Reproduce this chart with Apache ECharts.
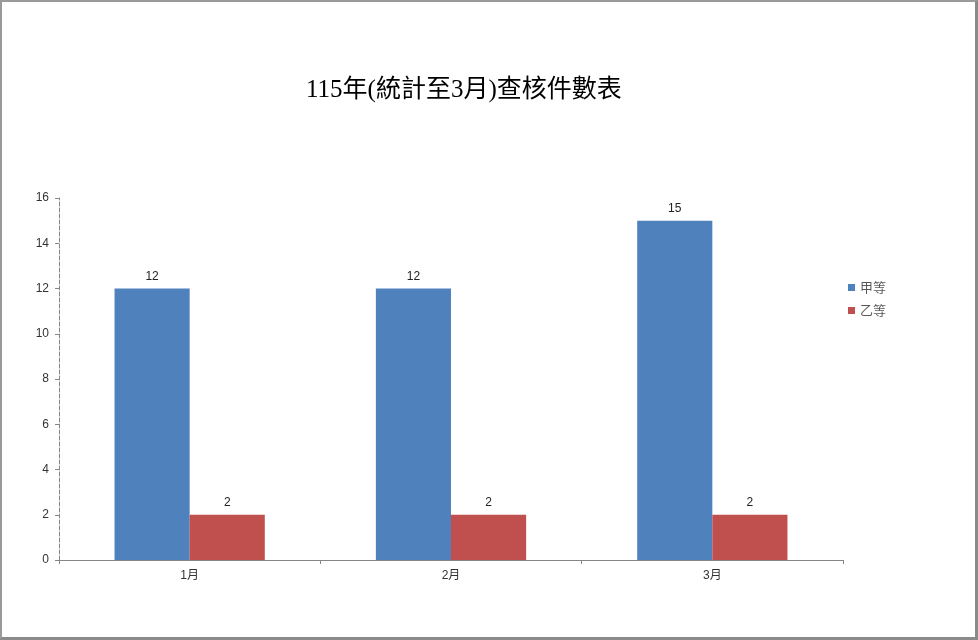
<!DOCTYPE html>
<html>
<head>
<meta charset="utf-8">
<script src="https://cdn.jsdelivr.net/npm/echarts@6/dist/echarts.min.js"></script>
<style>
  html, body { margin: 0; padding: 0; background: #fff; }
  #wrap { position: relative; width: 978px; height: 640px; }
  #chart { position: absolute; left: 0; top: 0; width: 978px; height: 640px; }
  #frame { position: absolute; left: 0; top: 0; width: 978px; height: 640px; box-sizing: border-box;
           border-top: 2px solid #9a9a9a; border-left: 2px solid #9a9a9a;
           border-right: 3px solid #8a8a8a; border-bottom: 3px solid #8a8a8a; pointer-events: none; }
</style>
</head>
<body>
<div id="wrap">
  <div id="chart"></div>
  <div id="frame"></div>
</div>
<script>
// 資料
var months = ['1月', '2月', '3月'];
var gradeA = [12, 12, 15];   // 甲等
var gradeB = [2, 2, 2];      // 乙等
var seriesNames = ['甲等', '乙等'];

var myChart = echarts.init(document.getElementById('chart'));

var labelStyle = {
    show: true,
    position: 'top',
    distance: 6,
    color: '#222',
    fontSize: 12,
    fontFamily: 'Liberation Sans, Noto Sans CJK TC'
};

var option = {
    backgroundColor: '#fff',
    animation: false,
    title: {
        text: '115年(統計至3月)查核件數表',
        left: 301,
        top: 73,
        textStyle: {
            color: '#000',
            fontSize: 25,
            fontWeight: 'normal',
            fontFamily: 'Liberation Serif, Noto Sans CJK TC'
        }
    },
    legend: {
        orient: 'vertical',
        left: 843,
        top: 276,
        itemWidth: 7,
        itemHeight: 7,
        itemGap: 10,
        icon: 'rect',
        data: seriesNames,
        textStyle: {
            color: '#595959',
            fontSize: 13,
            fontFamily: 'Noto Sans CJK TC'
        }
    },
    grid: {
        left: 59,
        right: 135,
        top: 198,
        bottom: 80
    },
    xAxis: {
        type: 'category',
        data: months,
        axisLine: { lineStyle: { color: '#868686', width: 1 } },
        axisTick: { show: true, length: 4, lineStyle: { color: '#868686' } },
        axisLabel: {
            color: '#333',
            fontSize: 12,
            margin: 10,
            fontFamily: 'Liberation Sans, Noto Sans CJK TC'
        }
    },
    yAxis: {
        type: 'value',
        min: 0,
        max: 16,
        interval: 2,
        axisLine: { show: true, lineStyle: { color: '#868686', type: 'dashed', width: 1 } },
        axisTick: { show: true, length: 4, lineStyle: { color: '#868686' } },
        splitLine: { show: false },
        axisLabel: {
            color: '#333',
            fontSize: 12,
            margin: 10,
            fontFamily: 'Liberation Sans'
        }
    },
    series: [
        {
            name: seriesNames[0],
            type: 'bar',
            data: gradeA,
            barGap: '0%',
            barCategoryGap: '42.5%',
            itemStyle: { color: '#4F81BD' },
            label: labelStyle
        },
        {
            name: seriesNames[1],
            type: 'bar',
            data: gradeB,
            barGap: '0%',
            barCategoryGap: '42.5%',
            itemStyle: { color: '#C0504D' },
            label: labelStyle
        }
    ]
};

myChart.setOption(option);
</script>
</body>
</html>
